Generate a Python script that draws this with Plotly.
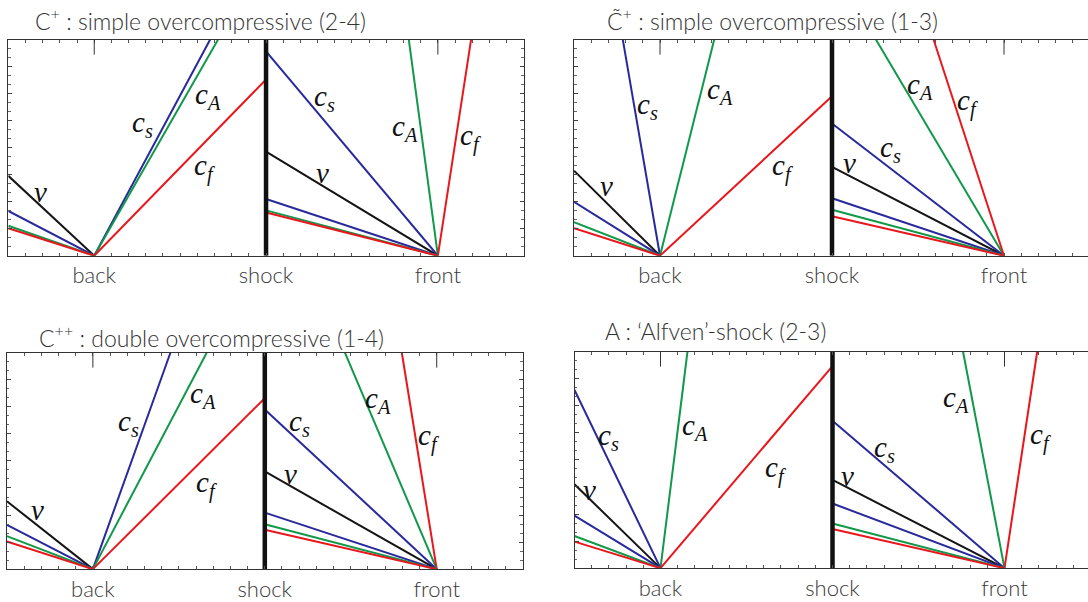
import plotly.graph_objects as go

# Foot points of the characteristic fans and the shock position (x units)
BACK, SHOCK, FRONT = -1.0, 0.0, 1.0
Y_TOP = 8.0
TICK_LABELS = ["back", "shock", "front"]

COLORS = {"v": "#141414", "cs": "#28299a", "cA": "#12984a", "cf": "#e8171d"}
LABEL_TEXT = {
    "v": "<i>v</i>",
    "cs": "<i>c</i><sub><i>s</i></sub>",
    "cA": "<i>c</i><sub><i>A</i></sub>",
    "cf": "<i>c</i><sub><i>f</i></sub>",
}

# ---- C+ : simple overcompressive (2-4) ----
P1_TITLE = "C<sup>+</sup> : simple overcompressive (2-4)"
P1_KIND = ["v", "cs", "cA", "cf", "cs", "cA", "cf", "cs", "v", "cs", "cA", "cf", "cA", "cf"]
P1_FOOT = [BACK] * 7 + [FRONT] * 7
P1_END_X = [-1.5, -1.5, -1.5, -1.5, -0.326, -0.280, 0.0, 0.0, 0.0, 0.0, 0.0, 0.0, 0.831, 1.193]
P1_END_Y = [2.96, 1.66, 1.11, 1.02, 8.0, 8.0, 6.53, 7.57, 3.86, 2.10, 1.68, 1.60, 8.0, 8.0]
P1_LAB_KIND = ["v", "cs", "cA", "cf", "cs", "v", "cA", "cf"]
P1_LAB_X = [-1.31, -0.72, -0.34, -0.36, 0.34, 0.33, 0.81, 1.19]
P1_LAB_Y = [2.37, 4.87, 5.91, 3.27, 5.85, 3.08, 4.74, 4.37]

# ---- C~+ : simple overcompressive (1-3) ----
P2_TITLE = "C\u0303<sup>+</sup> : simple overcompressive (1-3)"
P2_KIND = ["cs", "v", "cs", "cA", "cf", "cA", "cf", "cA", "cf", "cs", "v", "cs", "cA", "cf"]
P2_FOOT = [BACK] * 7 + [FRONT] * 7
P2_END_X = [-1.216, -1.5, -1.5, -1.5, -1.5, -0.685, 0.0, 0.256, 0.591, 0.0, 0.0, 0.0, 0.0, 0.0]
P2_END_Y = [8.0, 3.15, 2.00, 1.24, 1.02, 8.0, 5.91, 8.0, 8.0, 4.90, 3.29, 2.13, 1.70, 1.46]
P2_LAB_KIND = ["cs", "cA", "v", "cf", "cA", "cf", "cs", "v"]
P2_LAB_X = [-1.07, -0.65, -1.31, -0.29, 0.51, 0.79, 0.34, 0.10]
P2_LAB_Y = [5.54, 6.10, 2.59, 3.27, 6.28, 5.67, 3.94, 3.45]

# ---- C++ : double overcompressive (1-4) ----
P3_TITLE = "C<sup>++</sup> : double overcompressive (1-4)"
P3_KIND = ["v", "cs", "cA", "cf", "cs", "cA", "cf", "cs", "v", "cs", "cA", "cf", "cA", "cf"]
P3_FOOT = [BACK] * 7 + [FRONT] * 7
P3_END_X = [-1.5, -1.5, -1.5, -1.5, -0.549, -0.338, 0.0, 0.0, 0.0, 0.0, 0.0, 0.0, 0.466, 0.797]
P3_END_Y = [2.51, 1.64, 1.22, 1.02, 8.0, 8.0, 6.32, 5.90, 3.61, 2.09, 1.66, 1.46, 8.0, 8.0]
P3_LAB_KIND = ["v", "cs", "cA", "cf", "cs", "v", "cA", "cf"]
P3_LAB_X = [-1.32, -0.79, -0.36, -0.34, 0.20, 0.15, 0.66, 0.95]
P3_LAB_Y = [2.17, 5.41, 6.45, 3.14, 5.41, 3.51, 6.26, 4.86]

# ---- A : 'Alfven'-shock (2-3) ----
P4_TITLE = "A : \u2018Alfven\u2019-shock (2-3)"
P4_KIND = ["cs", "v", "cs", "cA", "cf", "cA", "cf", "cs", "v", "cs", "cA", "cf", "cA", "cf"]
P4_FOOT = [BACK] * 7 + [FRONT] * 7
P4_END_X = [-1.5, -1.5, -1.5, -1.5, -1.5, -0.843, 0.0, 0.0, 0.0, 0.0, 0.0, 0.0, 0.759, 1.190]
P4_END_Y = [6.59, 3.10, 1.94, 1.19, 0.98, 8.0, 7.47, 5.45, 3.26, 2.39, 1.65, 1.45, 8.0, 8.0]
P4_LAB_KIND = ["cs", "v", "cA", "cf", "cA", "cs", "v", "cf"]
P4_LAB_X = [-1.30, -1.41, -0.80, -0.33, 0.72, 0.30, 0.09, 1.21]
P4_LAB_Y = [4.85, 2.89, 5.22, 3.63, 6.27, 4.39, 3.40, 4.85]

W, H = 1088, 602

# Panel frames in pixels: left, right, top, bottom; title left edge and centre y
PANELS = [
    dict(title=P1_TITLE, kind=P1_KIND, foot=P1_FOOT, ex=P1_END_X, ey=P1_END_Y,
         lk=P1_LAB_KIND, lx=P1_LAB_X, ly=P1_LAB_Y,
         box=(8.3, 523.8, 40, 257), tpos=(33, 20), cut=False),
    dict(title=P2_TITLE, kind=P2_KIND, foot=P2_FOOT, ex=P2_END_X, ey=P2_END_Y,
         lk=P2_LAB_KIND, lx=P2_LAB_X, ly=P2_LAB_Y,
         box=(574.0, 1090.0, 40, 257), tpos=(605, 20), cut=True),
    dict(title=P3_TITLE, kind=P3_KIND, foot=P3_FOOT, ex=P3_END_X, ey=P3_END_Y,
         lk=P3_LAB_KIND, lx=P3_LAB_X, ly=P3_LAB_Y,
         box=(6.9, 522.7, 354.5, 572), tpos=(37, 338), cut=False),
    dict(title=P4_TITLE, kind=P4_KIND, foot=P4_FOOT, ex=P4_END_X, ey=P4_END_Y,
         lk=P4_LAB_KIND, lx=P4_LAB_X, ly=P4_LAB_Y,
         box=(574.5, 1090.5, 353.5, 571), tpos=(603, 333), cut=True),
]

AXIS_COLOR = "#333333"
SANS = "Lato"
SERIF = "Liberation Serif"

fig = go.Figure()
layout = dict(
    width=W, height=H, margin=dict(l=0, r=0, t=0, b=0),
    paper_bgcolor="white", plot_bgcolor="white", showlegend=False,
    annotations=[], shapes=[],
)

extra_axis = 5
for i, p in enumerate(PANELS, start=1):
    xa = "x" if i == 1 else f"x{i}"
    ya = "y" if i == 1 else f"y{i}"
    left, right, top, bottom = p["box"]
    px_per_unit = (right - left) / 3.0
    x_hi = 1.5
    dom_r = right / W
    if right > W:
        x_hi = 1.5 - (right - W) / px_per_unit
        dom_r = 1.0
    x_range = [-1.5, x_hi]

    # characteristics, drawn in order v, c_s, c_A, c_f so red sits on top
    for kind in ["v", "cs", "cA", "cf"]:
        for k, f, x1, y1 in zip(p["kind"], p["foot"], p["ex"], p["ey"]):
            if k != kind:
                continue
            fig.add_trace(go.Scatter(
                x=[f, x1], y=[0, y1], mode="lines", xaxis=xa, yaxis=ya,
                line=dict(color=COLORS[k], width=2), hoverinfo="skip"))

    # the shock
    fig.add_trace(go.Scatter(
        x=[SHOCK, SHOCK], y=[0, Y_TOP], mode="lines", xaxis=xa, yaxis=ya,
        line=dict(color="#111111", width=4.5), hoverinfo="skip", cliponaxis=False))

    key_x = "xaxis" if i == 1 else f"xaxis{i}"
    key_y = "yaxis" if i == 1 else f"yaxis{i}"
    layout[key_x] = dict(
        domain=[left / W, dom_r], range=x_range, anchor=ya,
        showline=True, linecolor=AXIS_COLOR, linewidth=1, mirror="allticks",
        ticks="inside", ticklen=0, tickvals=[BACK, SHOCK, FRONT], ticktext=TICK_LABELS,
        tickfont=dict(family=SANS, size=22, color="#3a3a3a", weight=300),
        ticklabelstandoff=0,
        minor=dict(dtick=0.1, tick0=0, ticks="inside", ticklen=3, tickcolor="#555555"),
        showgrid=False, zeroline=False, fixedrange=True,
    )
    layout[key_y] = dict(
        domain=[1 - bottom / H, 1 - top / H], range=[0, Y_TOP], anchor=xa,
        showline=True, linecolor=AXIS_COLOR, linewidth=1,
        mirror=False if p["cut"] else "allticks",
        ticks="inside", ticklen=4, dtick=1, tickcolor="#444444", showticklabels=False,
        minor=dict(dtick=1 / 3, ticks="inside", ticklen=2.5, tickcolor="#666666"),
        showgrid=False, zeroline=False, fixedrange=True,
    )
    if p["cut"]:
        # right-hand ticks of a frame that runs past the page edge
        layout[f"yaxis{extra_axis}"] = dict(
            overlaying=ya, side="right", anchor=xa, range=[0, Y_TOP],
            showline=False, ticks="inside", ticklen=4, dtick=1, tickcolor="#444444",
            showticklabels=False, showgrid=False, zeroline=False, fixedrange=True,
        )
        extra_axis += 1

    # long marks on the upper frame at the back and front positions
    for f in (BACK, FRONT):
        layout["shapes"].append(dict(
            type="line", xref=xa, yref=ya, x0=f, x1=f, y0=Y_TOP, y1=Y_TOP - 0.55,
            line=dict(color=AXIS_COLOR, width=1)))

    # characteristic labels
    for k, lx, ly in zip(p["lk"], p["lx"], p["ly"]):
        layout["annotations"].append(dict(
            x=lx, y=ly, xref=xa, yref=ya, text=LABEL_TEXT[k], showarrow=False,
            font=dict(family=SERIF, size=29, color="#111111"),
            xanchor="center", yanchor="middle"))

    # panel title
    tx, ty = p["tpos"]
    layout["annotations"].append(dict(
        x=tx / W, y=1 - ty / H, xref="paper", yref="paper", text=p["title"],
        showarrow=False, xanchor="left", yanchor="middle",
        font=dict(family=SANS, size=23, color="#333333", weight=300)))

fig.update_layout(**layout)
fig.write_html("out.html")
